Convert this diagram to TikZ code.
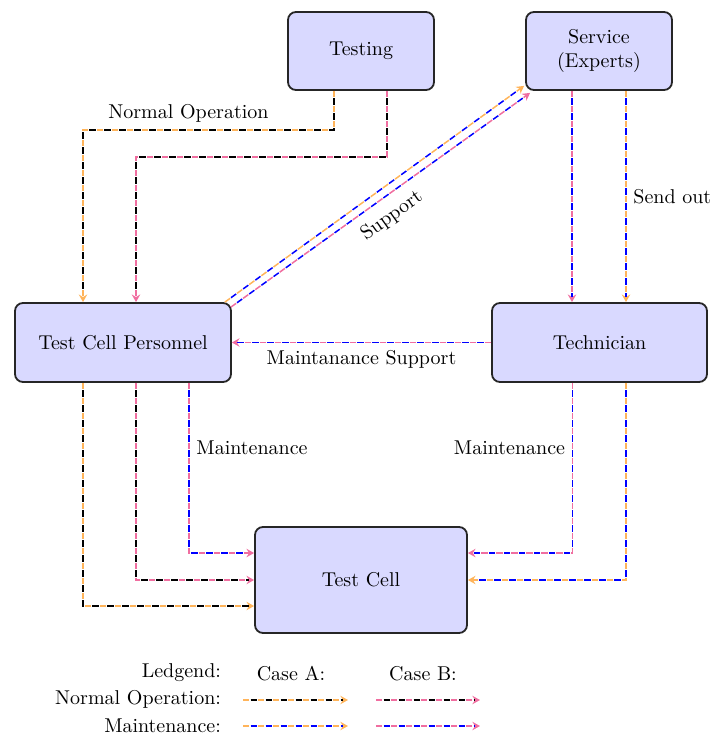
\documentclass[tikz,border=0pt]{standalone}
\usetikzlibrary{arrows.meta,calc}
\definecolor{caseA}{RGB}{255,180,90}
\definecolor{caseB}{RGB}{240,110,160}
\begin{document}
\begin{tikzpicture}[x=0.5pt,y=-0.5pt,
  box/.style={draw=black!85, line width=0.9pt, rounded corners=4pt,
    fill=blue!15, inner sep=0pt, align=center},
  flow/.style 2 args={draw=#1, line width=0.75pt,
    dash pattern=on 3.2pt off 4.3pt,
    -{Stealth[length=3.8pt,width=4.2pt,inset=1.3pt]},
    postaction={draw=#2, line width=0.75pt, arrows=-,
      dash pattern=on 3.2pt off 4.3pt, dash phase=3.75pt, shorten >=2.5pt}}]
\useasboundingbox (0,0) rectangle (712,734);

% boxes
\node[box, minimum width=73pt, minimum height=39pt] (Testing) at (361,51) {Testing};
\node[box, minimum width=73pt, minimum height=39pt] (Serv) at (599,51) {Service\\(Experts)};
\node[box, minimum width=108pt, minimum height=39.5pt] (TCP) at (123,342.5) {Test Cell Personnel};
\node[box, minimum width=107.5pt, minimum height=39.5pt] (Tech) at (599.5,342.5) {Technician};
\node[box, minimum width=106pt, minimum height=53pt] (TC) at (361,580) {Test Cell};

% Testing -> Test Cell Personnel
\coordinate (nA) at (83,130);
\coordinate (nB) at (136,157);
\draw[flow={caseA}{black}] ($(Testing.south)+(-27,0)$) |- node[pos=0.79, above] {Normal Operation} (nA) -- (nA |- TCP.north);
\draw[flow={caseB}{black}] ($(Testing.south)+(26,0)$) |- (nB) -- (nB |- TCP.north);

% Test Cell Personnel -> Service (support)
\draw[flow={caseA}{blue}] ($(TCP.north east)+(-7,0)$) -- ($(Serv.south west)+(-1,-5)$);
\draw[flow={caseB}{blue}] ($(TCP.north east)+(-1,5)$) -- node[sloped, below=1.5pt] {Support} ($(Serv.south west)+(5,2)$);

% Service -> Technician
\coordinate (s1) at ($(Serv.south)+(-27,0)$);
\coordinate (s2) at ($(Serv.south)+(27,0)$);
\draw[flow={caseB}{blue}] (s1) -- (s1 |- Tech.north);
\draw[flow={caseA}{blue}] (s2) -- node[right] {Send out} (s2 |- Tech.north);

% Technician -> Test Cell Personnel
\draw[flow={caseB}{blue}] (Tech.west) -- node[below] {Maintanance Support} (TCP.east);

% Test Cell Personnel -> Test Cell
\coordinate (t1) at ($(TCP.south)+(-40,0)$);
\coordinate (t2) at ($(TCP.south)+(13,0)$);
\coordinate (t3) at ($(TCP.south)+(66,0)$);
\draw[flow={caseA}{black}] (t1) |- ($(TC.west)+(0,26)$);
\draw[flow={caseB}{black}] (t2) |- (TC.west);
\draw[flow={caseB}{blue}] (t3) |- node[pos=0.19, right] {Maintenance} ($(TC.west)+(0,-27)$);

% Technician -> Test Cell
\coordinate (u1) at ($(Tech.south)+(-27,0)$);
\coordinate (u2) at ($(Tech.south)+(26.5,0)$);
\draw[flow={caseB}{blue}] (u1) |- node[pos=0.19, left] {Maintenance} ($(TC.east)+(0,-27)$);
\draw[flow={caseA}{blue}] (u2) |- (TC.east);

% legend
\node[anchor=base east] (lg) at (228,677) {Ledgend:};
\node[anchor=base east] (lgN) at (228,704.5) {Normal Operation:};
\node[anchor=base east] (lgM) at (228,732) {Maintenance:};
\node[anchor=base] (caA) at (291,680) {Case A:};
\node[anchor=base] (caB) at (423,680) {Case B:};
\coordinate (a1) at (243,700); \coordinate (a2) at (348,700);
\coordinate (b1) at (376,700); \coordinate (b2) at (480,700);
\coordinate (a3) at (243,726); \coordinate (a4) at (348,726);
\coordinate (b3) at (376,726); \coordinate (b4) at (480,726);
\draw[flow={caseA}{black}] (a1) -- (a2);
\draw[flow={caseB}{black}] (b1) -- (b2);
\draw[flow={caseA}{blue}] (a3) -- (a4);
\draw[flow={caseB}{blue}] (b3) -- (b4);
\end{tikzpicture}
\end{document}
